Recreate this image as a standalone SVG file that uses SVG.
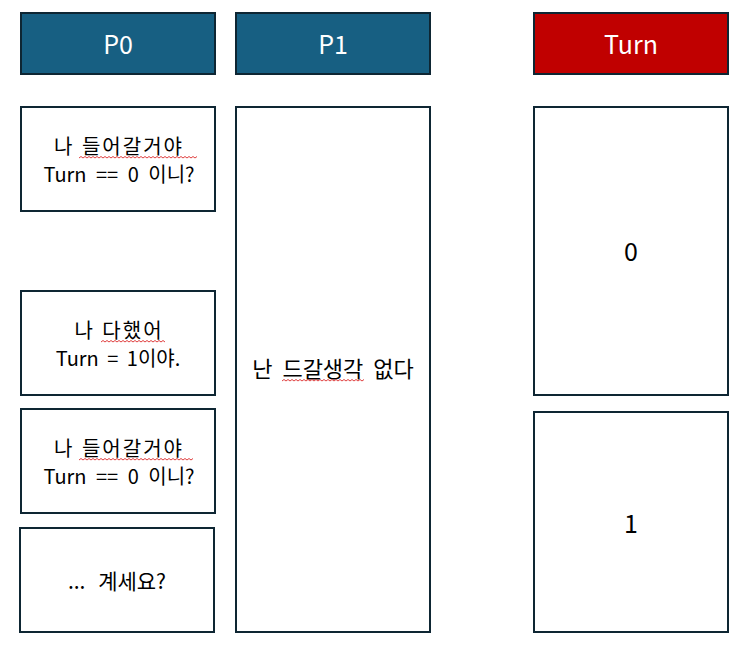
<svg xmlns="http://www.w3.org/2000/svg" width="745" height="651" viewBox="0 0 745 651">
<style>
.box{fill:#fff;stroke:#0e2633;stroke-width:2}
.hd{fill:#175f82;stroke:#0e2633;stroke-width:2}
.hdr{fill:#c00000;stroke:#0e2633;stroke-width:2}
text{font-family:"Malgun Gothic","Noto Sans CJK KR","Noto Sans",sans-serif;text-anchor:middle;fill:#000}
.t{font-size:20px;word-spacing:4px}
.k{letter-spacing:2px;word-spacing:1px}
.b{font-size:22px;word-spacing:5px}
.h{font-size:25px;fill:#fff}
.n{font-size:25px}
.sq{fill:none;stroke:#e04040;stroke-width:1}
</style>
<rect width="745" height="651" fill="#fff"/>
<g id="hdr-p0"><rect class="hd" x="21" y="13" width="194" height="61"/><text class="h" x="118" y="54">P0</text></g>
<g id="hdr-p1"><rect class="hd" x="236" y="13" width="194" height="61"/><text class="h" x="333" y="54">P1</text></g>
<g id="hdr-turn"><rect class="hdr" x="534" y="13" width="194" height="61"/><text class="h" x="631" y="54">Turn</text></g>
<g id="p0-1"><rect class="box" x="21" y="107" width="194" height="104"/><text class="t k" x="119" y="154">나 들어갈거야</text><text class="t" x="119" y="182" style="word-spacing:5px">Turn == 0 이니?</text></g>
<g id="p0-2"><rect class="box" x="21" y="291" width="194" height="104"/><text class="t k" x="119" y="338">나 다했어</text><text class="t" x="118" y="366">Turn = 1이야.</text></g>
<g id="p0-3"><rect class="box" x="21" y="409" width="194" height="104"/><text class="t k" x="119" y="456">나 들어갈거야</text><text class="t" x="119" y="484" style="word-spacing:5px">Turn == 0 이니?</text></g>
<g id="p0-4"><rect class="box" x="20" y="528" width="194" height="104"/><text class="t" x="117" y="589" style="font-size:21px;word-spacing:8px">... 계세요?</text></g>
<g id="p1-box"><rect class="box" x="236" y="107" width="194" height="525"/><text class="b" x="333" y="377">난 드갈생각 없다</text></g>
<g id="turn-0"><rect class="box" x="534" y="107" width="194" height="288"/><text class="n" x="631" y="261">0</text></g>
<g id="turn-1"><rect class="box" x="534" y="412" width="194" height="220"/><text class="n" x="631" y="533">1</text></g>
<g id="connectors"></g>
<g id="spellcheck">
<path class="sq" d="M79 158 l2 -1.5 l2 1.5 l2 -1.5 l2 1.5 l2 -1.5 l2 1.5 l2 -1.5 l2 1.5 l2 -1.5 l2 1.5 l2 -1.5 l2 1.5 l2 -1.5 l2 1.5 l2 -1.5 l2 1.5 l2 -1.5 l2 1.5 l2 -1.5 l2 1.5 l2 -1.5 l2 1.5 l2 -1.5 l2 1.5 l2 -1.5 l2 1.5 l2 -1.5 l2 1.5 l2 -1.5 l2 1.5 l2 -1.5 l2 1.5 l2 -1.5 l2 1.5 l2 -1.5 l2 1.5 l2 -1.5 l2 1.5 l2 -1.5 l2 1.5 l2 -1.5 l2 1.5 l2 -1.5 l2 1.5 l2 -1.5 l2 1.5 l2 -1.5 l2 1.5 l2 -1.5 l2 1.5 l2 -1.5 l2 1.5 l2 -1.5 l2 1.5 l2 -1.5 l2 1.5 l2 -1.5 l2 1.5 l2 -1.5"/>
<path class="sq" d="M79 460 l2 -1.5 l2 1.5 l2 -1.5 l2 1.5 l2 -1.5 l2 1.5 l2 -1.5 l2 1.5 l2 -1.5 l2 1.5 l2 -1.5 l2 1.5 l2 -1.5 l2 1.5 l2 -1.5 l2 1.5 l2 -1.5 l2 1.5 l2 -1.5 l2 1.5 l2 -1.5 l2 1.5 l2 -1.5 l2 1.5 l2 -1.5 l2 1.5 l2 -1.5 l2 1.5 l2 -1.5 l2 1.5 l2 -1.5 l2 1.5 l2 -1.5 l2 1.5 l2 -1.5 l2 1.5 l2 -1.5 l2 1.5 l2 -1.5 l2 1.5 l2 -1.5 l2 1.5 l2 -1.5 l2 1.5 l2 -1.5 l2 1.5 l2 -1.5 l2 1.5 l2 -1.5 l2 1.5 l2 -1.5 l2 1.5 l2 -1.5 l2 1.5 l2 -1.5 l2 1.5 l2 -1.5"/>
<path class="sq" d="M101 342 l2 -1.5 l2 1.5 l2 -1.5 l2 1.5 l2 -1.5 l2 1.5 l2 -1.5 l2 1.5 l2 -1.5 l2 1.5 l2 -1.5 l2 1.5 l2 -1.5 l2 1.5 l2 -1.5 l2 1.5 l2 -1.5 l2 1.5 l2 -1.5 l2 1.5 l2 -1.5 l2 1.5 l2 -1.5 l2 1.5 l2 -1.5 l2 1.5 l2 -1.5 l2 1.5 l2 -1.5 l2 1.5 l2 -1.5 l2 1.5"/>
<path class="sq" d="M282 381 l2 -1.5 l2 1.5 l2 -1.5 l2 1.5 l2 -1.5 l2 1.5 l2 -1.5 l2 1.5 l2 -1.5 l2 1.5 l2 -1.5 l2 1.5 l2 -1.5 l2 1.5 l2 -1.5 l2 1.5 l2 -1.5 l2 1.5 l2 -1.5 l2 1.5 l2 -1.5 l2 1.5 l2 -1.5 l2 1.5 l2 -1.5 l2 1.5 l2 -1.5 l2 1.5 l2 -1.5 l2 1.5 l2 -1.5 l2 1.5 l2 -1.5 l2 1.5 l2 -1.5 l2 1.5 l2 -1.5 l2 1.5 l2 -1.5 l2 1.5 l2 -1.5"/>
</g>
</svg>
